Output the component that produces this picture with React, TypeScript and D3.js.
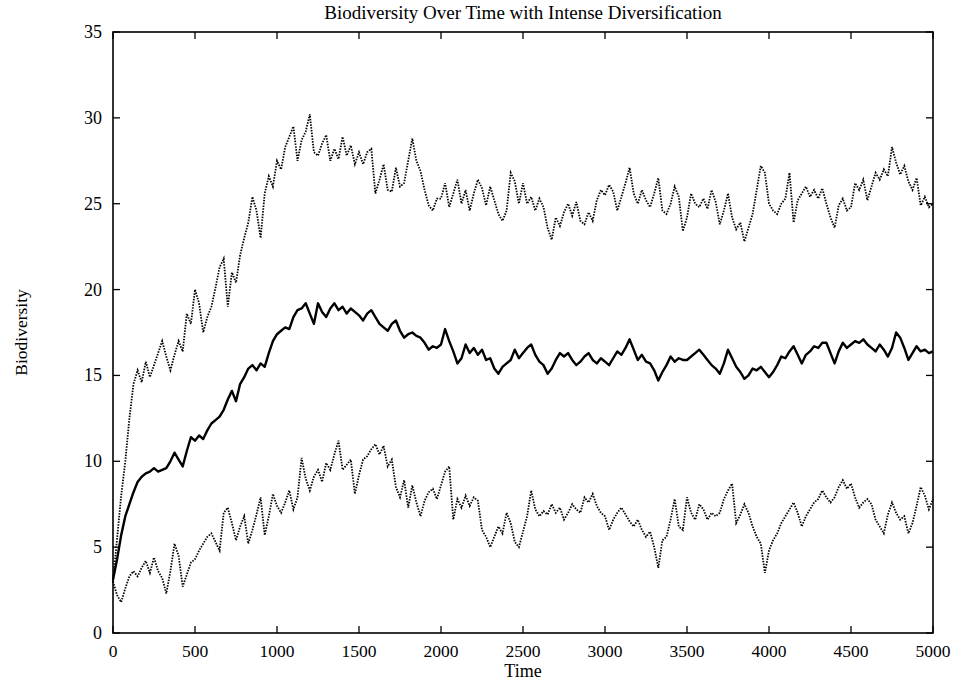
import React from "react";
import * as d3 from "d3";

const title = "Biodiversity Over Time with Intense Diversification";
const xLabel = "Time";
const yLabel = "Biodiversity";
const xTicks = [0, 500, 1000, 1500, 2000, 2500, 3000, 3500, 4000, 4500, 5000];
const yTicks = [0, 5, 10, 15, 20, 25, 30, 35];
const timeStep = 25;

// upper series (dotted), one value every 25 time units
const upper = [
  3.0, 5.5, 8.0, 10.0, 12.5, 14.5, 15.3, 14.6, 15.8, 14.9, 15.6, 16.3, 17.0, 16.1, 15.3, 16.2, 17.0, 16.4, 18.6, 18.0,
  20.0, 19.2, 17.5, 18.4, 19.0, 20.1, 21.3, 21.8, 19.0, 21.0, 20.4, 22.0, 23.0, 23.9, 25.4, 24.6, 23.0, 25.6, 26.6, 26.0,
  27.5, 27.0, 28.3, 28.9, 29.5, 27.5, 28.7, 29.2, 30.2, 28.0, 27.8, 28.5, 29.0, 27.5, 28.2, 27.6, 28.9, 27.8, 28.4, 27.3,
  28.0, 27.3, 28.0, 28.2, 25.6, 26.4, 27.3, 25.8, 25.7, 27.1, 26.0, 26.2, 27.5, 28.8, 27.5, 26.9, 25.8, 24.9, 24.6, 25.3,
  25.3, 26.2, 24.8, 25.6, 26.4, 25.0, 25.8, 24.6, 25.6, 26.4, 25.9, 24.9, 26.0, 25.2, 24.4, 24.0, 24.6, 26.8, 26.3, 25.0,
  26.2, 25.0, 25.4, 24.6, 25.3, 24.8, 23.6, 22.9, 24.2, 23.7, 24.5, 25.0, 24.3, 25.1, 24.0, 23.8, 24.5, 24.0, 25.2, 25.8,
  25.5, 26.1, 25.7, 24.6, 25.4, 26.2, 27.1, 25.6, 25.0, 25.8, 25.2, 24.8, 25.6, 26.5, 24.6, 24.4, 25.0, 26.0, 25.4, 23.4,
  24.2, 25.6, 25.0, 24.8, 25.3, 24.7, 25.8, 25.1, 23.8, 24.6, 25.6, 24.2, 23.5, 23.9, 22.8, 23.6, 24.4, 25.8, 27.2, 26.8,
  25.0, 24.6, 24.4, 25.0, 25.3, 26.8, 23.9, 25.2, 25.6, 26.0, 25.4, 25.8, 25.3, 25.9, 25.0, 24.2, 23.6, 24.9, 25.3, 24.6,
  24.8, 26.2, 25.8, 26.4, 25.2, 26.0, 26.8, 26.4, 27.0, 26.6, 28.3, 27.4, 26.7, 27.2, 26.3, 25.8, 26.5, 24.9, 25.4, 24.8,
  25.0,
];

// middle series (solid)
const middle = [
  3.1, 4.3, 5.7, 6.8, 7.5, 8.2, 8.8, 9.1, 9.3, 9.4, 9.6, 9.4, 9.5, 9.6, 10.0, 10.5, 10.1, 9.7, 10.6, 11.4,
  11.2, 11.5, 11.3, 11.8, 12.2, 12.4, 12.6, 13.0, 13.6, 14.1, 13.5, 14.5, 14.9, 15.4, 15.6, 15.3, 15.7, 15.5, 16.3, 17.0,
  17.4, 17.6, 17.8, 17.7, 18.4, 18.8, 18.9, 19.2, 18.6, 18.0, 19.2, 18.7, 18.4, 18.9, 19.2, 18.8, 19.0, 18.6, 18.9, 18.7,
  18.5, 18.2, 18.6, 18.8, 18.4, 18.0, 17.8, 17.6, 18.0, 18.2, 17.6, 17.2, 17.4, 17.5, 17.3, 17.2, 16.9, 16.5, 16.7, 16.6,
  16.8, 17.7, 17.0, 16.4, 15.7, 16.0, 16.8, 16.3, 16.6, 16.2, 16.5, 15.9, 16.0, 15.4, 15.1, 15.5, 15.7, 15.9, 16.5, 16.0,
  16.3, 16.6, 16.8, 16.2, 15.8, 15.6, 15.1, 15.4, 15.9, 16.3, 16.1, 16.3, 15.9, 15.6, 15.8, 16.1, 16.3, 15.9, 15.7, 16.0,
  15.8, 15.6, 16.0, 16.4, 16.2, 16.6, 17.1, 16.5, 15.9, 16.2, 15.8, 15.7, 15.3, 14.7, 15.2, 15.6, 16.1, 15.8, 16.0, 15.9,
  15.9, 16.1, 16.3, 16.5, 16.2, 15.9, 15.6, 15.4, 15.1, 15.7, 16.5, 16.0, 15.5, 15.2, 14.8, 15.0, 15.4, 15.3, 15.5, 15.2,
  14.9, 15.2, 15.6, 16.1, 16.0, 16.4, 16.7, 16.2, 15.7, 16.2, 16.4, 16.7, 16.6, 16.9, 16.9, 16.3, 15.7, 16.4, 16.9, 16.6,
  16.8, 17.0, 16.9, 17.1, 16.8, 16.6, 16.4, 16.8, 16.5, 16.1, 16.6, 17.5, 17.2, 16.6, 15.9, 16.3, 16.7, 16.4, 16.5, 16.3,
  16.4,
];

// lower series (dotted)
const lower = [
  3.0, 2.2, 1.8, 2.6, 3.3, 3.6, 3.3, 3.8, 4.2, 3.5, 4.4, 3.6, 3.2, 2.3, 3.6, 5.2, 4.5, 2.7, 3.4, 4.1,
  4.3, 4.8, 5.2, 5.6, 5.8, 5.3, 4.8, 7.0, 7.3, 6.4, 5.4, 6.2, 6.8, 5.2, 6.0, 6.9, 7.9, 5.7, 6.8, 8.1,
  7.4, 7.0, 7.6, 8.3, 7.2, 7.9, 10.2, 9.0, 8.3, 9.1, 9.5, 8.8, 9.9, 9.5, 10.4, 11.2, 9.5, 9.8, 10.1, 8.1,
  9.2, 10.1, 10.3, 10.7, 11.0, 10.4, 10.9, 9.7, 10.1, 8.5, 7.9, 8.9, 7.3, 8.6, 7.6, 6.8, 7.7, 8.2, 8.4, 7.8,
  8.6, 9.4, 9.7, 6.6, 7.8, 7.3, 8.0, 7.4, 7.9, 7.7, 6.0, 5.6, 5.0, 5.6, 6.2, 5.8, 7.0, 6.4, 5.3, 5.0,
  5.9, 6.8, 8.3, 7.2, 6.8, 7.1, 6.9, 7.5, 7.0, 7.3, 6.6, 7.0, 7.5, 7.2, 7.0, 7.9, 7.6, 8.1, 7.4, 7.0,
  6.8, 6.0, 6.6, 7.0, 7.3, 6.9, 6.5, 6.2, 6.6, 6.0, 5.6, 5.9, 5.0, 3.8, 5.4, 5.6, 6.6, 7.8, 6.2, 6.0,
  7.9, 7.0, 6.6, 7.5, 7.2, 6.6, 7.0, 6.8, 7.0, 7.8, 8.3, 8.7, 6.4, 6.9, 7.5, 7.0, 6.2, 5.6, 5.2, 3.5,
  4.8, 5.4, 5.8, 6.4, 6.8, 7.2, 7.6, 7.0, 6.2, 6.8, 7.2, 7.6, 7.8, 8.3, 7.9, 7.6, 7.9, 8.5, 8.9, 8.4,
  8.7, 7.9, 7.3, 7.6, 7.8, 7.5, 6.6, 6.2, 5.8, 6.9, 7.6, 7.0, 6.6, 6.8, 5.8, 6.4, 7.4, 8.5, 8.0, 7.2,
  7.8,
];

const W = 953;
const H = 680;
const M = { left: 113, right: 20, top: 32, bottom: 47 };

export default function App() {
  const x = d3.scaleLinear().domain([0, 5000]).range([M.left, W - M.right]);
  const y = d3.scaleLinear().domain([0, 35]).range([H - M.bottom, M.top]);
  const line = d3
    .line<number>()
    .x((_, i) => x(i * timeStep))
    .y((d) => y(d));
  const tickLen = 7;
  const font = "'Liberation Serif', 'Times New Roman', serif";
  const x0 = x(0), x1 = x(5000), y0 = y(0), y1 = y(35);

  return (
    <svg
      width={W}
      height={H}
      style={{ position: "absolute", left: 0, top: 0, background: "#fff" }}
      fontFamily={font}
    >
      <rect x={0} y={0} width={W} height={H} fill="#fff" />
      <path d={line(upper) || ""} fill="none" stroke="#000" strokeWidth={1.8} strokeDasharray="1.5 1.3" />
      <path d={line(lower) || ""} fill="none" stroke="#000" strokeWidth={1.8} strokeDasharray="1.5 1.3" />
      <path d={line(middle) || ""} fill="none" stroke="#000" strokeWidth={2.4} strokeLinejoin="round" />

      <rect x={x0} y={y1} width={x1 - x0} height={y0 - y1} fill="none" stroke="#000" strokeWidth={1.6} />
      {xTicks.map((t) => (
        <g key={"x" + t}>
          <line x1={x(t)} x2={x(t)} y1={y0} y2={y0 - tickLen} stroke="#000" strokeWidth={1.3} />
          <line x1={x(t)} x2={x(t)} y1={y1} y2={y1 + tickLen} stroke="#000" strokeWidth={1.3} />
          <text x={x(t)} y={657} textAnchor="middle" fontSize={17.5}>
            {t}
          </text>
        </g>
      ))}
      {yTicks.map((t) => (
        <g key={"y" + t}>
          <line x1={x0} x2={x0 + tickLen} y1={y(t)} y2={y(t)} stroke="#000" strokeWidth={1.3} />
          <line x1={x1} x2={x1 - tickLen} y1={y(t)} y2={y(t)} stroke="#000" strokeWidth={1.3} />
          <text x={x0 - 11} y={y(t) + 6} textAnchor="end" fontSize={18}>
            {t}
          </text>
        </g>
      ))}
      <text x={(x0 + x1) / 2} y={19} textAnchor="middle" fontSize={19}>
        {title}
      </text>
      <text x={(x0 + x1) / 2} y={677} textAnchor="middle" fontSize={18}>
        {xLabel}
      </text>
      <text
        transform={`translate(27, ${(y0 + y1) / 2}) rotate(-90)`}
        textAnchor="middle"
        fontSize={17.5}
      >
        {yLabel}
      </text>
    </svg>
  );
}
